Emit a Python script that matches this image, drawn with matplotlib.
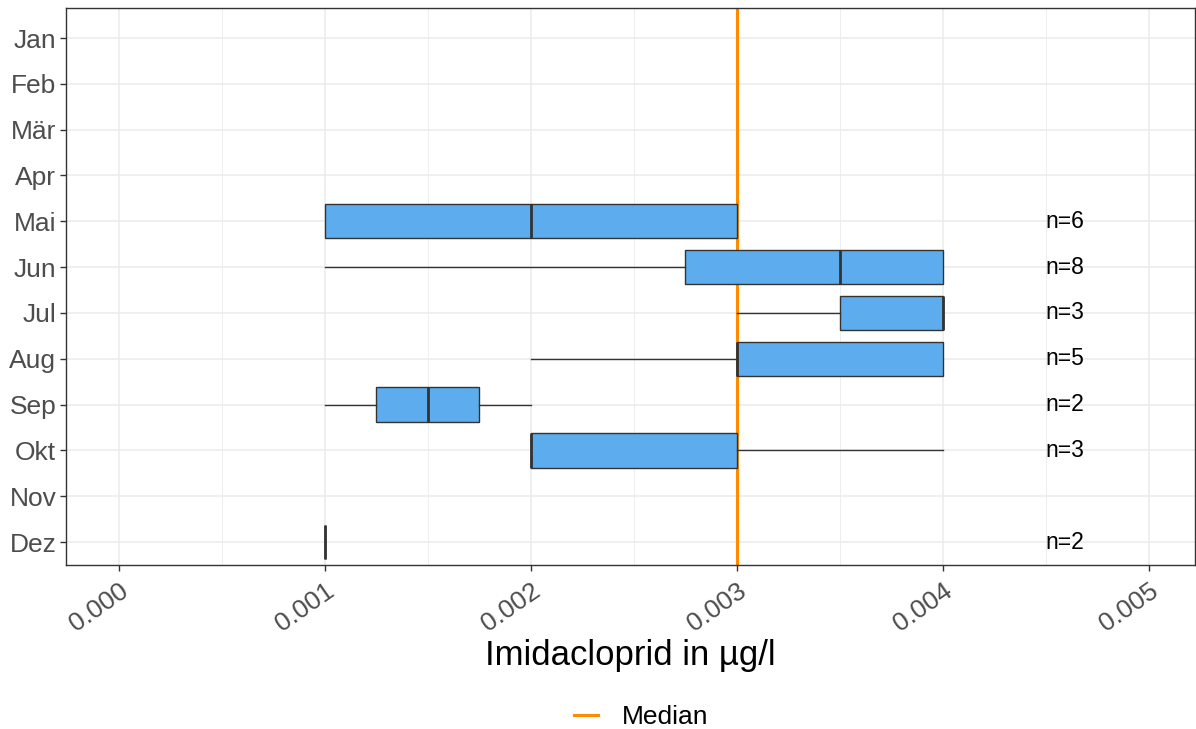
import matplotlib.pyplot as plt
from matplotlib.lines import Line2D

plt.rcParams['font.family'] = ['Liberation Sans', 'DejaVu Sans']

# Monate und Kennwerte der Boxplots (Imidacloprid in µg/l)
months = ['Jan', 'Feb', 'Mär', 'Apr', 'Mai', 'Jun', 'Jul', 'Aug', 'Sep', 'Okt', 'Nov', 'Dez']
box_months = ['Mai', 'Jun', 'Jul', 'Aug', 'Sep', 'Okt', 'Dez']
whislo = [0.001, 0.001, 0.003, 0.002, 0.001, 0.002, 0.001]
q1 = [0.001, 0.00275, 0.0035, 0.003, 0.00125, 0.002, 0.001]
med = [0.002, 0.0035, 0.004, 0.003, 0.0015, 0.002, 0.001]
q3 = [0.003, 0.004, 0.004, 0.004, 0.00175, 0.003, 0.001]
whishi = [0.003, 0.004, 0.004, 0.004, 0.002, 0.004, 0.001]
n_obs = [6, 8, 3, 5, 2, 3, 2]
overall_median = 0.003
xticks = [0.000, 0.001, 0.002, 0.003, 0.004, 0.005]

fig = plt.figure(figsize=(11.96, 7.29), dpi=100)
ax = fig.add_axes([0.0552, 0.225, 0.9438, 0.764])

# Median-Linie liegt hinter den Boxen
ax.axvline(overall_median, color='#FF8C00', linewidth=2.2, zorder=2)

stats = []
for i in range(len(box_months)):
    stats.append(dict(whislo=whislo[i], q1=q1[i], med=med[i], q3=q3[i], whishi=whishi[i]))
pos = [months.index(m) for m in box_months]

ax.bxp(stats, positions=pos, orientation='horizontal', widths=0.75,
       showcaps=False, showfliers=False, patch_artist=True,
       boxprops=dict(facecolor='#5CACEE', edgecolor='#333333', linewidth=1.0),
       whiskerprops=dict(color='#333333', linewidth=1.0),
       medianprops=dict(color='#333333', linewidth=2.0, solid_capstyle='butt'),
       zorder=3)

for p, n in zip(pos, n_obs):
    ax.text(0.0045, p, f'n={n}', ha='left', va='center', fontsize=16.5, color='black', zorder=5)

ax.set_xlim(-0.000257, 0.005223)
ax.set_ylim(11.5, -0.655)
ax.set_yticks(range(len(months)))
ax.set_yticklabels(months, fontsize=19, color='#4D4D4D')
ax.set_xticks(xticks)
ax.set_xticklabels([f'{v:.3f}' for v in xticks], fontsize=19, color='#4D4D4D',
                   rotation=35, ha='right', va='top', rotation_mode='anchor')
ax.set_xticks([0.0005, 0.0015, 0.0025, 0.0035, 0.0045], minor=True)
ax.tick_params(axis='both', which='major', length=4, width=1, color='#333333')
ax.tick_params(axis='y', pad=3)
ax.tick_params(axis='x', pad=6)
ax.tick_params(which='minor', length=0)

ax.grid(True, which='major', color='#EBEBEB', linewidth=1.1, zorder=0)
ax.grid(True, which='minor', axis='x', color='#EBEBEB', linewidth=0.6, zorder=0)
ax.set_axisbelow(True)
for s in ax.spines.values():
    s.set_color('#333333')
    s.set_linewidth(1.0)

ax.set_xlabel('Imidacloprid in µg/l', fontsize=25, color='black', labelpad=2)

handle = Line2D([], [], color='#FF8C00', linewidth=2.2)
fig.legend([handle], ['Median'], loc='center', bbox_to_anchor=(0.536, 0.016),
           frameon=False, fontsize=19, handlelength=0.9, handletextpad=0.9)

fig.savefig('out.png', dpi=100, facecolor='white')
